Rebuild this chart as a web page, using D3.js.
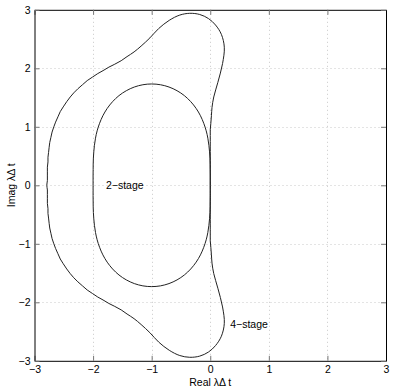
<!DOCTYPE html>
<html><head><meta charset="utf-8">
<script src="https://cdn.jsdelivr.net/npm/d3@7"></script>
<style>body{margin:0;background:#fff} svg{display:block}</style>
</head><body>
<svg id="chart" width="393" height="391"></svg>
<script>
// ---- data ----
const xTicks = [-3, -2, -1, 0, 1, 2, 3];
const yTicks = [-3, -2, -1, 0, 1, 2, 3];
const xLabel = "Real λΔ t";
const yLabel = "Imag λΔ t";
const seriesNames = ["2−stage", "4−stage"];

// 2-stage boundary (closed loop)
const rk2X = [0.000,0.000,0.000,-0.001,-0.002,-0.005,-0.012,-0.023,-0.041,-0.069,-0.111,-0.167,-0.241,-0.333,-0.442,-0.567,-0.704,-0.850,-1.000,
  -1.150,-1.296,-1.433,-1.558,-1.667,-1.759,-1.833,-1.889,-1.931,-1.959,-1.977,-1.988,-1.995,-1.998,-1.999,-2.000,-2.000,-2.000,
  -2.000,-2.000,-1.999,-1.998,-1.995,-1.988,-1.977,-1.959,-1.931,-1.889,-1.833,-1.759,-1.667,-1.558,-1.433,-1.296,-1.150,
  -1.000,-0.850,-0.704,-0.567,-0.442,-0.333,-0.241,-0.167,-0.111,-0.069,-0.041,-0.023,-0.012,-0.005,-0.002,-0.001,0.000,0.000];
const rk2Y = [0.000,0.088,0.176,0.268,0.363,0.464,0.571,0.684,0.805,0.931,1.060,1.189,1.314,1.430,1.533,1.617,1.680,1.719,1.732,
  1.719,1.680,1.617,1.533,1.430,1.314,1.189,1.060,0.931,0.805,0.684,0.571,0.464,0.363,0.268,0.176,0.088,0.000,
  -0.088,-0.176,-0.268,-0.363,-0.464,-0.571,-0.684,-0.805,-0.931,-1.060,-1.189,-1.314,-1.430,-1.533,-1.617,-1.680,-1.719,
  -1.732,-1.719,-1.680,-1.617,-1.533,-1.430,-1.314,-1.189,-1.060,-0.931,-0.805,-0.684,-0.571,-0.464,-0.363,-0.268,-0.176,-0.088];

// 4-stage boundary (closed loop)
const rk4X = [0.00,0.00,0.00,0.00,0.00,0.00,0.00,0.00,0.00,0.00,0.00,0.00,0.00,0.01,0.02,0.03,0.06,0.13,0.21,0.24,
  0.19,0.09,-0.03,-0.18,-0.35,-0.52,-0.70,-0.88,-1.03,-1.18,-1.30,-1.42,-1.52,-1.63,-1.73,-1.83,-1.92,-2.01,-2.10,-2.18,
  -2.26,-2.33,-2.39,-2.45,-2.51,-2.56,-2.60,-2.64,-2.67,-2.70,-2.72,-2.74,-2.75,-2.76,-2.77,-2.77,-2.78,-2.78,-2.78,-2.78,
  -2.79,
  -2.78,-2.78,-2.78,-2.78,-2.77,-2.77,-2.76,-2.75,-2.74,-2.72,-2.70,-2.67,-2.64,-2.60,-2.56,-2.51,-2.45,-2.39,-2.33,-2.26,
  -2.18,-2.10,-2.01,-1.92,-1.83,-1.73,-1.63,-1.52,-1.42,-1.30,-1.18,-1.03,-0.88,-0.70,-0.52,-0.35,-0.18,-0.03,0.09,0.19,
  0.24,0.21,0.13,0.06,0.03,0.02,0.01,0.00,0.00,0.00,0.00,0.00,0.00,0.00,0.00,0.00,0.00,0.00,0.00];
const rk4Y = [0.00,0.07,0.14,0.21,0.28,0.35,0.42,0.50,0.58,0.66,0.75,0.85,0.95,1.06,1.19,1.33,1.51,1.76,2.08,2.36,
  2.58,2.74,2.85,2.92,2.94,2.91,2.82,2.68,2.52,2.38,2.28,2.20,2.13,2.07,2.02,1.96,1.91,1.85,1.79,1.72,
  1.65,1.58,1.51,1.43,1.34,1.26,1.17,1.08,1.00,0.91,0.82,0.73,0.65,0.56,0.48,0.40,0.31,0.23,0.16,0.08,
  0.00,
  -0.08,-0.16,-0.23,-0.31,-0.40,-0.48,-0.56,-0.65,-0.73,-0.82,-0.91,-1.00,-1.08,-1.17,-1.26,-1.34,-1.43,-1.51,-1.58,-1.65,
  -1.72,-1.79,-1.85,-1.91,-1.96,-2.02,-2.07,-2.13,-2.20,-2.28,-2.38,-2.52,-2.68,-2.82,-2.91,-2.94,-2.92,-2.85,-2.74,-2.58,
  -2.36,-2.08,-1.76,-1.51,-1.33,-1.19,-1.06,-0.95,-0.85,-0.75,-0.66,-0.58,-0.50,-0.42,-0.35,-0.28,-0.21,-0.14,-0.07];

// label anchor positions (data units)
const labelPos = [[-1.78, 0.0], [0.34, -2.37]];

// ---- drawing ----
const W = 393, H = 391;
const m = {left: 34.5, right: 7, top: 9.8, bottom: 30.2};
const x = d3.scaleLinear().domain([-3, 3]).range([m.left, W - m.right]);
const y = d3.scaleLinear().domain([-3, 3]).range([H - m.bottom, m.top]);
const svg = d3.select("#chart");
const font = "'Liberation Sans', Arial, Helvetica, sans-serif";

// grid
const grid = svg.append("g").attr("stroke", "#c8c8c8").attr("stroke-width", 1)
  .attr("stroke-dasharray", "1,3");
grid.selectAll("line.v").data(xTicks.slice(1, -1)).join("line")
  .attr("x1", d => Math.round(x(d)) + 0.5).attr("x2", d => Math.round(x(d)) + 0.5)
  .attr("y1", y(3)).attr("y2", y(-3));
grid.selectAll("line.h").data(yTicks.slice(1, -1)).join("line")
  .attr("y1", d => Math.round(y(d)) + 0.5).attr("y2", d => Math.round(y(d)) + 0.5)
  .attr("x1", x(-3)).attr("x2", x(3));

// curves
const line = d3.line().x(d => x(d[0])).y(d => y(d[1])).curve(d3.curveCatmullRomClosed.alpha(0.5));
const rk2 = rk2X.map((v, i) => [v, rk2Y[i]]);
const rk4 = rk4X.map((v, i) => [v, rk4Y[i]]);
svg.append("path").attr("d", line(rk2)).attr("fill", "none").attr("stroke", "#222").attr("stroke-width", 1);
svg.append("path").attr("d", line(rk4)).attr("fill", "none").attr("stroke", "#222").attr("stroke-width", 1);

// axes (box with inward ticks on all sides)
const tickLen = 5;
const axB = svg.append("g").attr("transform", `translate(0,${y(-3)})`)
  .call(d3.axisBottom(x).tickValues(xTicks).tickSizeInner(-tickLen).tickSizeOuter(0).tickPadding(5)
    .tickFormat(d => d < 0 ? "−" + Math.abs(d) : d));
const axT = svg.append("g").attr("transform", `translate(0,${y(3)})`)
  .call(d3.axisTop(x).tickValues(xTicks).tickSizeInner(-tickLen).tickSizeOuter(0).tickFormat(""));
const axL = svg.append("g").attr("transform", `translate(${x(-3)},0)`)
  .call(d3.axisLeft(y).tickValues(yTicks).tickSizeInner(-tickLen).tickSizeOuter(0).tickPadding(4)
    .tickFormat(d => d < 0 ? "−" + Math.abs(d) : d));
const axR = svg.append("g").attr("transform", `translate(${x(3)},0)`)
  .call(d3.axisRight(y).tickValues(yTicks).tickSizeInner(-tickLen).tickSizeOuter(0).tickFormat(""));
[axB, axT, axL, axR].forEach(a => {
  a.select(".domain").attr("stroke", "#000").attr("stroke-width", 1);
  a.selectAll(".tick line").attr("stroke", "#777");
  a.selectAll("text").attr("font-family", font).attr("font-size", 10.5).attr("fill", "#000");
});

// axis labels
svg.append("text").attr("x", x(0)).attr("y", H - 5).attr("text-anchor", "middle")
  .attr("font-family", font).attr("font-size", 10.5).text(xLabel);
svg.append("text").attr("transform", `translate(15,${y(0)}) rotate(-90)`).attr("text-anchor", "middle")
  .attr("font-family", font).attr("font-size", 10.5).text(yLabel);

// series labels
svg.selectAll("text.series").data(seriesNames).join("text").attr("class", "series")
  .attr("x", (d, i) => x(labelPos[i][0])).attr("y", (d, i) => y(labelPos[i][1]))
  .attr("dy", "0.35em").attr("font-family", font).attr("font-size", 10.5).text(d => d);
</script>
</body></html>
